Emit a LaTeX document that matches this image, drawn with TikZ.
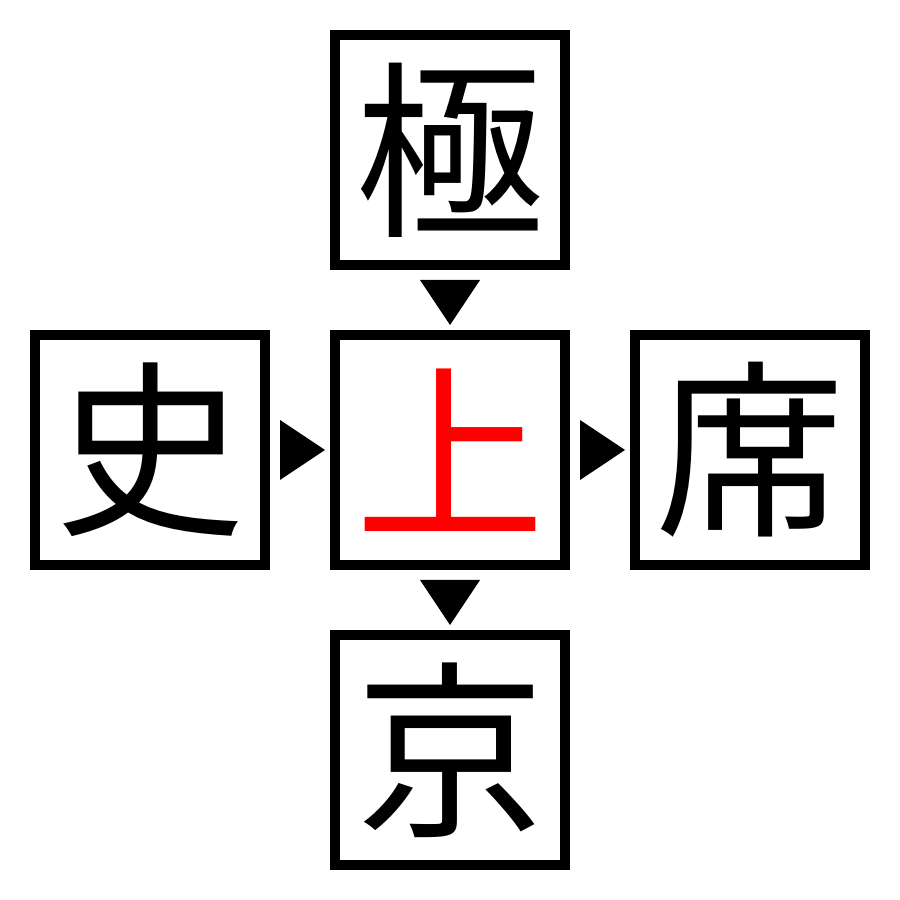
\documentclass[tikz,border=0pt]{standalone}
\usepackage{fontspec}
\newfontfamily\cjk{Noto Sans CJK JP}
\begin{document}
\begin{tikzpicture}[x=1cm,y=1cm,
  box/.style={draw=black,line width=0.1cm,minimum size=2.3cm,inner sep=0pt,font=\cjk\fontsize{54}{54}\selectfont}]
\useasboundingbox (0,0) rectangle (9,9);
\node[box] (t) at (4.5,7.5) {極};
\node[box] (l) at (1.5,4.5) {史};
\node[box,text=red] (c) at (4.5,4.5) {上};
\node[box] (r) at (7.5,4.5) {席};
\node[box] (b) at (4.5,1.5) {京};
\fill (2.8,4.8) -- (2.8,4.2) -- (3.25,4.5) -- cycle;
\fill (5.8,4.8) -- (5.8,4.2) -- (6.25,4.5) -- cycle;
\fill (4.2,6.2) -- (4.8,6.2) -- (4.5,5.75) -- cycle;
\fill (4.2,3.2) -- (4.8,3.2) -- (4.5,2.75) -- cycle;
\end{tikzpicture}
\end{document}
